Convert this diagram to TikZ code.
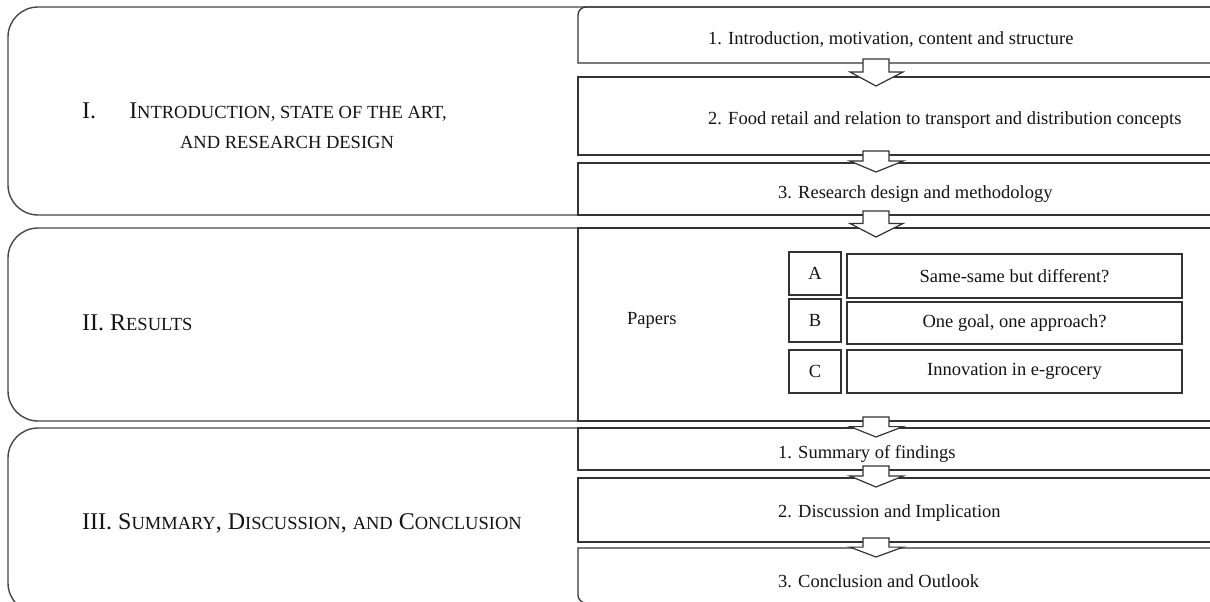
\documentclass[tikz,border=0pt]{standalone}
\usepackage{fontspec}
\setmainfont{Liberation Serif}
\usetikzlibrary{calc}
\tikzset{
  bigbox/.style={draw=black!72, line width=1.4pt, rounded corners=30pt, anchor=north west, inner sep=0pt, outer sep=0pt},
  colbox/.style={draw=black!80, line width=1.3pt, anchor=north west, inner sep=0pt, outer sep=0pt},
  colshape/.style={anchor=north west, inner sep=0pt, outer sep=0pt},
  boxline/.style={draw=black!80, line width=1.3pt},
  txt/.style={font=\fontsize{18.5}{22}\selectfont, inner sep=0pt, text=black!92},
  head/.style={font=\fontsize{24}{30}\selectfont, inner sep=0pt, text=black!92},
  paperbox/.style={draw=black!80, line width=1.3pt, inner sep=0pt, text=black!92, font=\fontsize{18.5}{22}\selectfont},
  blockarr/.style={draw=black!80, line width=1.2pt, fill=white, line join=miter},
}
\newcommand\smc[1]{{\fontsize{18.5}{22}\selectfont #1}}
\newcommand\flowarrow[2]{%
  \draw[blockarr] let \p1=(#1.south), \p2=(#2.north),
    \n1={\y1+4pt}, \n2={\y2-9pt}, \n3={\n1+0.48*(\n2-\n1)} in
    (863pt,\n1) -- (889pt,\n1) -- (889pt,\n3) -- (903pt,\n3) -- (876pt,\n2)
    -- (850pt,\n3) -- (863pt,\n3) -- cycle;}
\begin{document}
\begin{tikzpicture}[x=1pt,y=-1pt]
\useasboundingbox (0,0) rectangle (1210,602);
\clip (0,0) rectangle (1210,602);
\fill[white] (0,0) rectangle (1210,602);
% sections
\node[bigbox, minimum width=1240pt, minimum height=208pt] (s1) at (8,7) {};
\node[bigbox, minimum width=1240pt, minimum height=193pt] (s2) at (8,228) {};
\node[bigbox, minimum width=1240pt, minimum height=185pt] (s3) at (8,428) {};
% right column
\node[colshape, minimum width=662pt, minimum height=56pt] (b1) at (578,7) {};
\node[colbox, minimum width=662pt, minimum height=78pt] (b2) at (578,77) {};
\node[colbox, minimum width=662pt, minimum height=52pt] (b3) at (578,163) {};
\node[colbox, minimum width=662pt, minimum height=193pt] (pp) at (578,228) {};
\node[colbox, minimum width=662pt, minimum height=42pt] (c1) at (578,428) {};
\node[colbox, minimum width=662pt, minimum height=64pt] (c2) at (578,478) {};
\node[colshape, minimum width=662pt, minimum height=55pt] (c3) at (578,548) {};
\draw[boxline] (b1.south east) -- (b1.south west) -- ([yshift=-8pt]b1.north west)
  to[out=90,in=180] ([xshift=8pt]b1.north west) -- (b1.north east);
\draw[boxline] (c3.north east) -- (c3.north west) -- ([yshift=8pt]c3.south west)
  to[out=-90,in=180] ([xshift=8pt]c3.south west) -- (c3.south east);
% papers
\node[paperbox, minimum width=52pt, minimum height=43pt] (pa) at (815,273.5) {A};
\node[paperbox, minimum width=335pt, minimum height=44pt] (ta) at (1014.5,276) {Same-same but different?};
\node[paperbox, minimum width=52pt, minimum height=43pt] (pb) at (815,320.5) {B};
\node[paperbox, minimum width=335pt, minimum height=42pt] (tb) at (1014.5,323) {One goal, one approach?};
\node[paperbox, minimum width=52pt, minimum height=43pt] (pc) at (815,371.5) {C};
\node[paperbox, minimum width=335pt, minimum height=43pt] (tc) at (1014.5,371.5) {Innovation in e-grocery};
% texts
\node[txt, anchor=base west] (t1) at (708,45) {1. Introduction, motivation, content and structure};
\node[txt, anchor=base west] (t2) at (708,124) {2. Food retail and relation to transport and distribution concepts};
\node[txt, anchor=base west] (t3) at (778,198) {3. Research design and methodology};
\node[txt, anchor=base west] (tp) at (627,324) {Papers};
\node[txt, anchor=base west] (u1) at (778,458) {1. Summary of findings};
\node[txt, anchor=base west] (u2) at (778,517) {2. Discussion and Implication};
\node[txt, anchor=base west] (u3) at (778,587) {3. Conclusion and Outlook};
% headings
\node[head, anchor=base west] (h1n) at (82,118) {I.};
\node[head, anchor=base] (h1a) at (288,118) {I\smc{NTRODUCTION, STATE OF THE ART,}};
\node[head, anchor=base] (h1b) at (287,148) {\smc{AND RESEARCH DESIGN}};
\node[head, anchor=base west] (h2) at (82,330) {II. R\smc{ESULTS}};
\node[head, anchor=base west] (h3) at (82,529) {III. S\smc{UMMARY}, D\smc{ISCUSSION}, \smc{AND} C\smc{ONCLUSION}};
% arrows
\flowarrow{b1}{b2}
\flowarrow{b2}{b3}
\flowarrow{b3}{pp}
\flowarrow{pp}{c1}
\flowarrow{c1}{c2}
\flowarrow{c2}{c3}
\end{tikzpicture}
\end{document}
